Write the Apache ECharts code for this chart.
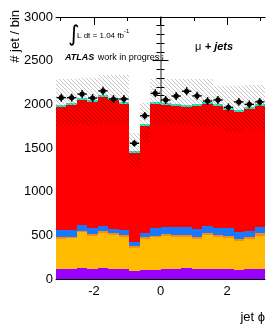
<!DOCTYPE html>
<html><head><meta charset="utf-8">
<script src="https://cdn.jsdelivr.net/npm/echarts@6/dist/echarts.min.js"></script>
<style>html,body{margin:0;padding:0;background:#fff;}#c{width:279px;height:332px;}</style>
</head><body><div id="c"></div>
<script>
const nBins = 20;
const phiMin = -Math.PI, phiMax = Math.PI;
const xMajorTicks = [-2, 0, 2];
const xMinorTicks = [-3, -1, 1, 3];

const dataCounts = [2076,2076,2118,2072,2154,2061,2061,1554,1870,2126,2050,2095,2150,2097,2038,2050,1966,2028,2000,2028];
const purpleVals = [120,120,122,120,122,120,118,95,105,105,115,115,125,115,120,115,115,105,118,118];
const yellowVals = [338,346,413,376,408,384,366,263,353,372,377,370,352,343,384,370,358,334,336,378];
const orangeVals = [20,20,20,20,20,20,20,20,20,20,23,19,27,27,26,19,19,19,23,27];
const blueVals   = [83,75,63,64,60,48,57,49,45,83,84,88,88,84,80,76,88,84,73,76];
const redVals    = [1413,1432,1435,1442,1471,1481,1447,1017,1230,1428,1399,1392,1378,1413,1398,1406,1358,1370,1402,1381];
const tealVals   = [22,22,22,22,22,22,22,22,22,22,22,22,22,22,22,22,22,22,22,22];
const bandHigh = [2290,2290,2300,2300,2336,2336,2336,1672,2015,2286,2286,2286,2286,2286,2286,2210,2210,2210,2221,2221];
const bandLow  = [1763,1763,1775,1763,1783,1783,1783,1275,1554,1783,1783,1775,1770,1744,1750,1744,1687,1687,1721,1721];

const binW = (phiMax - phiMin) / nBins;
const center = i => phiMin + (i + 0.5) * binW;

function rectRender(fill) {
  return function (params, api) {
    const c = api.value(0), lo = api.value(1), hi = api.value(2);
    const p0 = api.coord([c - binW / 2, lo]);
    const p1 = api.coord([c + binW / 2, hi]);
    const x0 = Math.round(p0[0]), x1 = Math.round(p1[0]);
    const y0 = Math.round(p0[1]), y1 = Math.round(p1[1]);
    return { type: 'rect', shape: { x: x0, y: y1, width: x1 - x0, height: y0 - y1 }, style: { fill: fill } };
  };
}

const hatch = document.createElement('canvas');
hatch.width = 4; hatch.height = 4;
(function () {
  const g = hatch.getContext('2d');
  g.strokeStyle = 'rgba(0,0,0,0.22)';
  g.lineWidth = 1;
  for (let k = -1; k <= 1; k++) { g.beginPath(); g.moveTo(k * 4, 0); g.lineTo(k * 4 + 4, 4); g.stroke(); }
})();

const layers = [
  { vals: purpleVals, color: '#9900ff' },
  { vals: yellowVals, color: '#ffbb00' },
  { vals: orangeVals, color: '#ff8a10' },
  { vals: blueVals, color: '#1a78ff' },
  { vals: redVals, color: '#ff0000' },
  { vals: tealVals, color: '#2ee6c4' }
];
const cum = new Array(nBins).fill(0);
const series = layers.map(L => ({
  type: 'custom', silent: true, animation: false,
  renderItem: rectRender(L.color),
  data: L.vals.map((v, i) => { const lo = cum[i]; cum[i] += v; return [center(i), lo, cum[i]]; })
}));
series.push({
  type: 'custom', silent: true, animation: false,
  renderItem: rectRender({ image: hatch, repeat: 'repeat' }),
  data: bandLow.map((v, i) => [center(i), v, bandHigh[i]])
});
series.push({
  type: 'custom', silent: true, animation: false,
  renderItem: function (params, api) {
    const c = api.value(0), v = api.value(1), e = Math.sqrt(v);
    const m = api.coord([c, v]);
    const l = api.coord([c - binW * 0.45, v]), r = api.coord([c + binW * 0.45, v]);
    const t = api.coord([c, v + e]), b = api.coord([c, v - e]);
    return { type: 'group', children: [
      { type: 'line', shape: { x1: l[0], y1: m[1], x2: r[0], y2: m[1] }, style: { stroke: '#000', lineWidth: 1.4 } },
      { type: 'line', shape: { x1: m[0], y1: t[1], x2: m[0], y2: b[1] }, style: { stroke: '#000', lineWidth: 1.4 } },
      { type: 'circle', shape: { cx: m[0], cy: m[1], r: 2.6 }, style: { fill: '#000' } }
    ] };
  },
  data: dataCounts.map((v, i) => [center(i), v])
});

const FONT = '"Liberation Sans", Arial, sans-serif';
function xAx(pos, ticks, len, labels, line) {
  return {
    type: 'value', position: pos, min: phiMin, max: phiMax,
    axisLine: { show: line, onZero: false, lineStyle: { color: '#000', width: 1 } },
    axisTick: { show: true, inside: true, length: len, customValues: ticks, lineStyle: { color: '#000' } },
    axisLabel: { show: labels, customValues: xMajorTicks, fontSize: 13, color: '#000', fontFamily: FONT, margin: 6,
      formatter: v => String(Math.round(v)) },
    splitLine: { show: false }
  };
}
function yAx(pos, labels) {
  return {
    type: 'value', position: pos, min: 0, max: 3000, interval: 500,
    axisLine: { show: true, lineStyle: { color: '#8a8a8a', width: 1.5 } },
    axisTick: { show: true, inside: true, length: 8, lineStyle: { color: '#000' } },
    minorTick: { show: true, splitNumber: 5, length: 4, lineStyle: { color: '#000' } },
    axisLabel: { show: labels, fontSize: 13, color: '#000', fontFamily: FONT, margin: 3, formatter: v => String(v) },
    splitLine: { show: false }, minorSplitLine: { show: false }
  };
}

const chart = echarts.init(document.getElementById('c'), null, { renderer: 'canvas' });
chart.setOption({
  animation: false,
  backgroundColor: '#fff',
  grid: { left: 56, right: 14, top: 17, bottom: 53, containLabel: false },
  xAxis: [
    xAx('bottom', xMajorTicks, 8, true, true),
    xAx('bottom', xMinorTicks, 4, false, false),
    xAx('top', xMajorTicks, 8, false, true),
    xAx('top', xMinorTicks, 4, false, false)
  ],
  yAxis: [yAx('left', true), yAx('right', false)],
  series: series,
  graphic: [
    { type: 'text', x: 15, y: 10, rotation: Math.PI / 2,
      style: { text: '# jet / bin', font: '13px ' + FONT, fill: '#000', textAlign: 'right', textVerticalAlign: 'middle', align: 'right', verticalAlign: 'middle' } },
    { type: 'text', x: 265, y: 317,
      style: { text: 'jet ϕ', font: '13px ' + FONT, fill: '#000', textAlign: 'right', textVerticalAlign: 'middle', align: 'right', verticalAlign: 'middle' } },
    { type: 'text', x: 68, y: 35,
      style: { text: '∫', font: '22px "DejaVu Sans"', fill: '#000', textAlign: 'left', textVerticalAlign: 'middle', align: 'left', verticalAlign: 'middle' } },
    { type: 'text', x: 77, y: 36,
      style: { text: 'L dt = 1.04 fb', font: '8px ' + FONT, fill: '#000', textAlign: 'left', textVerticalAlign: 'middle', align: 'left', verticalAlign: 'middle' } },
    { type: 'text', x: 124, y: 31,
      style: { text: '-1', font: '6px ' + FONT, fill: '#000', textAlign: 'left', textVerticalAlign: 'middle', align: 'left', verticalAlign: 'middle' } },
    { type: 'text', x: 65, y: 57.5,
      style: { text: '{a|ATLAS} {b|work in progress}', fill: '#000', textAlign: 'left', textVerticalAlign: 'middle', align: 'left', verticalAlign: 'middle',
        rich: { a: { fontFamily: FONT, fontSize: 9, fontWeight: 'bold', fontStyle: 'italic' }, b: { fontFamily: FONT, fontSize: 9 } } } },
    { type: 'text', x: 195, y: 46.5,
      style: { text: '{m|μ} {p|+ jets}', fill: '#000', textAlign: 'left', textVerticalAlign: 'middle', align: 'left', verticalAlign: 'middle',
        rich: { m: { fontFamily: FONT, fontSize: 11 }, p: { fontFamily: FONT, fontSize: 11, fontWeight: 'bold', fontStyle: 'italic' } } } }
  ]
});
</script></body></html>
